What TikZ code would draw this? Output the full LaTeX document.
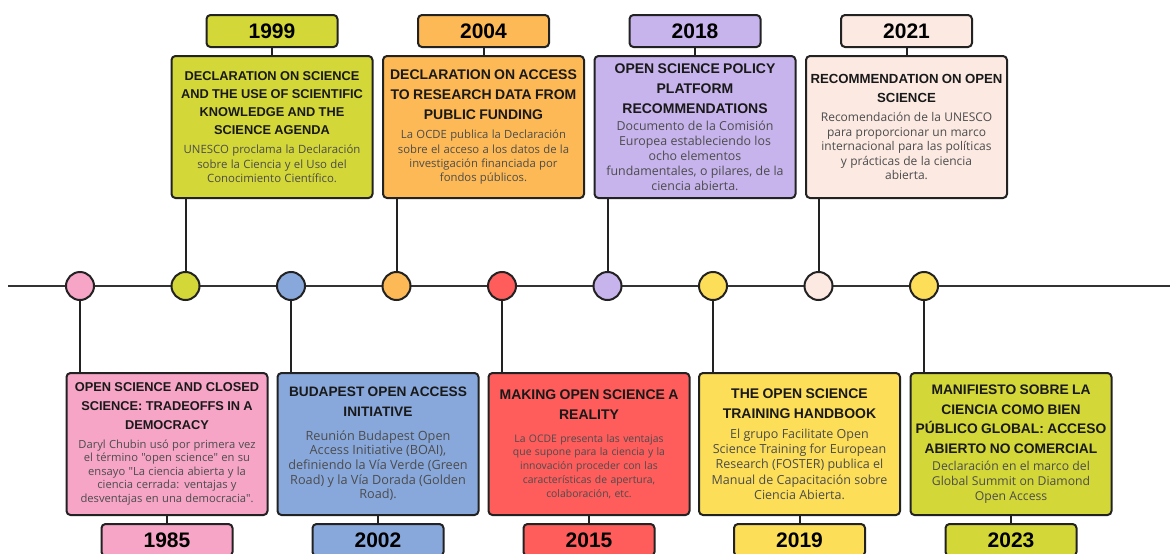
\documentclass[tikz,border=0pt]{standalone}
\usepackage{fontspec}
\setmainfont{Liberation Sans}
\newfontfamily\bodyfont{Open Sans}

\definecolor{linec}{HTML}{222222}
\definecolor{pinkc}{HTML}{F6A5C6}
\definecolor{limec}{HTML}{D3D737}
\definecolor{bluec}{HTML}{88A8DC}
\definecolor{orangec}{HTML}{FDB955}
\definecolor{redc}{HTML}{FF5C5C}
\definecolor{lilacc}{HTML}{C7B4ED}
\definecolor{yellowc}{HTML}{FDDE58}
\definecolor{peachc}{HTML}{FBE9E2}

% #1 font size, #2 line skip, #3 text
\newcommand{\evtitle}[3]{{\fontsize{#1}{#2}\selectfont\bfseries\color{black!90} #3\par}}
\newcommand{\evtext}[3]{\vspace{5pt}{\bodyfont\fontsize{#1}{#2}\selectfont\color{black!70} #3\par}}

\tikzset{
    eventbox/.style={draw=linec,line width=2pt,rounded corners=4pt,minimum width=201pt,minimum height=142pt,text width=198pt,align=center,inner sep=0pt},
    yearbox/.style={draw=linec,line width=2pt,rounded corners=4pt,minimum width=131pt,minimum height=32pt,font=\fontsize{21}{21}\selectfont\bfseries},
    dot/.style={circle,draw=linec,line width=2pt,minimum size=28pt,inner sep=0pt},
    stem/.style={draw=linec,line width=2pt}
}

\begin{document}
\begin{tikzpicture}[x=1pt,y=-1pt]
    \clip (0,0) rectangle (1170,554);
    \fill[white] (0,0) rectangle (1170,554);
    % timeline
    \coordinate (lstart) at (8,286);
    \coordinate (lend) at (1172,286);
    \draw[stem,line width=2.5pt,color=black!80] (lstart) -- (lend);
    \node[dot,fill=pinkc] (d1985) at (80,286) {};
    \node[dot,fill=limec] (d1999) at (185.5,286) {};
    \node[dot,fill=bluec] (d2002) at (291,286) {};
    \node[dot,fill=orangec] (d2004) at (396.5,286) {};
    \node[dot,fill=redc] (d2015) at (502,286) {};
    \node[dot,fill=lilacc] (d2018) at (607.5,286) {};
    \node[dot,fill=yellowc] (d2019) at (713,286) {};
    \node[dot,fill=peachc] (d2021) at (818.5,286) {};
    \node[dot,fill=yellowc] (d2023) at (924,286) {};

    % events above the line
    \node[eventbox,fill=limec] (b1999) at (272,127) {\evtitle{12.8}{18}{DECLARATION ON SCIENCE\\AND THE USE OF SCIENTIFIC\\KNOWLEDGE AND THE\\SCIENCE AGENDA}\evtext{11.4}{14.5}{UNESCO proclama la Declaración\\sobre la Ciencia y el Uso del\\Conocimiento Científico.}\vspace{4pt}};
    \node[yearbox,fill=limec] (y1999) at (272,31) {1999};
    \node[eventbox,fill=orangec] (b2004) at (483.5,127) {\evtitle{14}{20}{DECLARATION ON ACCESS\\TO RESEARCH DATA FROM\\PUBLIC FUNDING}\evtext{11.3}{14.3}{La OCDE publica la Declaración\\sobre el acceso a los datos de la\\investigación financiada por\\fondos públicos.}\vspace{2pt}};
    \node[yearbox,fill=orangec] (y2004) at (483.5,31) {2004};
    \node[eventbox,fill=lilacc] (b2018) at (695,127) {\evtitle{14}{20}{OPEN SCIENCE POLICY\\PLATFORM\\RECOMMENDATIONS}\vspace{-3pt}\evtext{12.4}{15}{Documento de la Comisión\\Europea estableciendo los\\ocho elementos\\fundamentales, o pilares, de la\\ciencia abierta.}};
    \node[yearbox,fill=lilacc] (y2018) at (695,31) {2018};
    \node[eventbox,fill=peachc] (b2021) at (906.5,127) {\evtitle{13.2}{19}{RECOMMENDATION ON OPEN\\SCIENCE}\evtext{12}{14.4}{Recomendación de la UNESCO\\para proporcionar un marco\\internacional para las políticas\\y prácticas de la ciencia\\abierta.}};
    \node[yearbox,fill=peachc] (y2021) at (906.5,31) {2021};

    % events below the line
    \node[eventbox,fill=pinkc] (b1985) at (167,444) {\evtitle{12.8}{19}{OPEN SCIENCE AND CLOSED\\SCIENCE: TRADEOFFS IN A\\DEMOCRACY}\evtext{11.2}{13.5}{Daryl Chubin usó por primera vez\\el término "open science" en su\\ensayo "La ciencia abierta y la\\ciencia cerrada: ventajas y\\desventajas en una democracia".}};
    \node[yearbox,fill=pinkc] (y1985) at (167,540) {1985};
    \node[eventbox,fill=bluec] (b2002) at (378,444) {\evtitle{13.7}{20}{BUDAPEST OPEN ACCESS\\INITIATIVE}\vspace{4pt}\evtext{12.7}{14.6}{Reunión Budapest Open\\Access Initiative (BOAI),\\definiendo la Vía Verde (Green\\Road) y la Vía Dorada (Golden\\Road).}};
    \node[yearbox,fill=bluec] (y2002) at (378,540) {2002};
    \node[eventbox,fill=redc] (b2015) at (589,444) {\evtitle{14}{20}{MAKING OPEN SCIENCE A\\REALITY}\vspace{4pt}\evtext{10.4}{13.8}{La OCDE presenta las ventajas\\que supone para la ciencia y la\\innovación proceder con las\\características de apertura,\\colaboración, etc.}};
    \node[yearbox,fill=redc] (y2015) at (589,540) {2015};
    \node[eventbox,fill=yellowc] (b2019) at (799.5,444) {\evtitle{14}{20}{THE OPEN SCIENCE\\TRAINING HANDBOOK}\evtext{12.5}{15.2}{El grupo Facilitate Open\\Science Training for European\\Research (FOSTER) publica el\\Manual de Capacitación sobre\\Ciencia Abierta.}};
    \node[yearbox,fill=yellowc] (y2019) at (799.5,540) {2019};
    \node[eventbox,fill=limec] (b2023) at (1011,444) {\evtitle{13.8}{19.5}{MANIFIESTO SOBRE LA\\CIENCIA COMO BIEN\\PÚBLICO GLOBAL: ACCESO\\ABIERTO NO COMERCIAL}\vspace{-3pt}\evtext{12.2}{15}{Declaración en el marco del\\Global Summit on Diamond\\Open Access}};
    \node[yearbox,fill=limec] (y2023) at (1011,540) {2023};

    % stems and year links
    \foreach \yr in {1999,2004,2018,2021} {
        \draw[stem] (d\yr) -- (b\yr.south -| d\yr);
        \draw[stem] (y\yr) -- (b\yr);
    }
    \foreach \yr in {1985,2002,2015,2019,2023} {
        \draw[stem] (d\yr) -- (b\yr.north -| d\yr);
        \draw[stem] (y\yr) -- (b\yr);
    }
\end{tikzpicture}
\end{document}
